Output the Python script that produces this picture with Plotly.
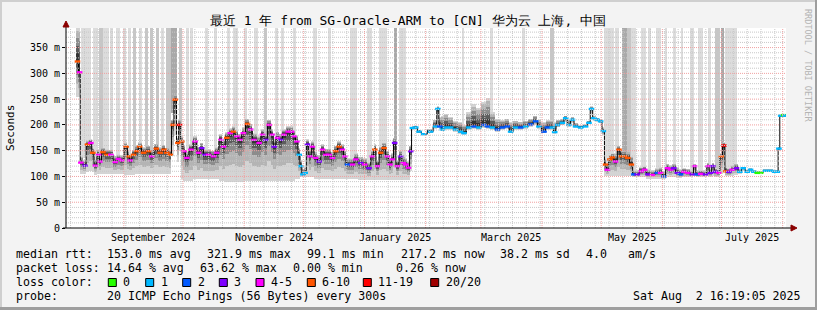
import numpy as np
import pandas as pd
import plotly.graph_objects as go

# ---------------- data ----------------
DATES = [
"2024-08-08 12:00","2024-08-09 14:00","2024-08-10 05:00","2024-08-12 07:00","2024-08-13 12:00","2024-08-15 07:00",
"2024-08-16 07:00","2024-08-17 12:00","2024-08-19 05:00","2024-08-19 22:00","2024-08-21 10:00","2024-08-23 10:00",
"2024-08-25 10:00","2024-08-27 14:00","2024-08-29 07:00","2024-08-31 00:00","2024-09-02 05:00","2024-09-03 10:00",
"2024-09-04 05:00","2024-09-05 22:00","2024-09-07 14:00","2024-09-09 00:00","2024-09-11 00:00","2024-09-13 12:00",
"2024-09-15 05:00","2024-09-17 10:00","2024-09-19 10:00","2024-09-21 10:00","2024-09-22 19:00","2024-09-24 12:00",
"2024-09-25 19:00","2024-09-27 00:00","2024-09-28 10:00","2024-09-29 05:00","2024-09-30 10:00","2024-10-01 14:00",
"2024-10-02 22:00","2024-10-05 00:00","2024-10-07 02:00","2024-10-08 22:00","2024-10-10 12:00","2024-10-12 05:00",
"2024-10-13 22:00","2024-10-16 12:00","2024-10-18 02:00","2024-10-20 05:00","2024-10-21 12:00","2024-10-23 05:00",
"2024-10-24 22:00","2024-10-26 14:00","2024-10-28 07:00","2024-10-29 22:00","2024-10-31 14:00","2024-11-02 17:00",
"2024-11-04 07:00","2024-11-06 00:00","2024-11-08 14:00","2024-11-10 07:00","2024-11-11 22:00","2024-11-13 14:00",
"2024-11-15 07:00","2024-11-16 05:00","2024-11-17 22:00","2024-11-19 12:00","2024-11-21 05:00","2024-11-23 07:00",
"2024-11-25 00:00","2024-11-26 07:00","2024-11-27 17:00","2024-11-28 22:00","2024-11-29 17:00","2024-11-30 19:00",
"2024-12-01 22:00","2024-12-03 02:00","2024-12-04 10:00","2024-12-05 14:00","2024-12-07 07:00","2024-12-09 00:00",
"2024-12-10 17:00","2024-12-12 10:00","2024-12-14 00:00","2024-12-15 17:00","2024-12-17 10:00","2024-12-19 02:00",
"2024-12-20 19:00","2024-12-22 00:00","2024-12-23 10:00","2024-12-25 22:00","2024-12-27 14:00","2024-12-30 02:00",
"2025-01-01 02:00","2025-01-03 07:00","2025-01-05 00:00","2025-01-06 05:00","2025-01-07 12:00","2025-01-09 05:00",
"2025-01-10 22:00","2025-01-12 14:00","2025-01-13 22:00","2025-01-15 02:00","2025-01-16 07:00","2025-01-17 14:00",
"2025-01-19 07:00","2025-01-20 17:00","2025-01-21 22:00","2025-01-23 07:00","2025-01-24 10:00","2025-01-25 07:00",
"2025-01-27 00:00","2025-01-28 14:00","2025-01-31 02:00","2025-02-03 12:00","2025-02-06 02:00","2025-02-07 05:00",
"2025-02-08 05:00","2025-02-09 12:00","2025-02-11 02:00","2025-02-13 17:00","2025-02-16 05:00","2025-02-18 17:00",
"2025-02-20 10:00","2025-02-22 22:00","2025-02-25 12:00","2025-02-28 00:00","2025-03-02 14:00","2025-03-04 07:00",
"2025-03-06 19:00","2025-03-09 10:00","2025-03-11 22:00","2025-03-14 10:00","2025-03-16 02:00","2025-03-18 14:00",
"2025-03-21 05:00","2025-03-23 17:00","2025-03-26 05:00","2025-03-28 19:00","2025-03-30 10:00","2025-04-02 00:00",
"2025-04-03 17:00","2025-04-06 05:00","2025-04-07 10:00","2025-04-08 19:00","2025-04-11 07:00","2025-04-13 00:00",
"2025-04-14 14:00","2025-04-16 10:00","2025-04-18 00:00","2025-04-20 14:00","2025-04-23 02:00","2025-04-24 19:00",
"2025-04-26 02:00","2025-04-27 07:00","2025-04-29 00:00","2025-04-30 17:00","2025-05-02 02:00","2025-05-03 05:00",
"2025-05-04 02:00","2025-05-05 10:00","2025-05-06 14:00","2025-05-08 07:00","2025-05-10 00:00","2025-05-11 05:00",
"2025-05-12 22:00","2025-05-14 12:00","2025-05-16 07:00","2025-05-17 14:00","2025-05-19 07:00","2025-05-21 07:00",
"2025-05-23 00:00","2025-05-24 17:00","2025-05-26 22:00","2025-05-29 10:00","2025-05-31 02:00","2025-06-01 19:00",
"2025-06-03 12:00","2025-06-05 05:00","2025-06-06 19:00","2025-06-08 14:00","2025-06-10 05:00","2025-06-11 22:00",
"2025-06-13 22:00","2025-06-16 05:00","2025-06-17 07:00","2025-06-18 17:00","2025-06-20 10:00","2025-06-22 22:00",
"2025-06-24 02:00","2025-06-25 10:00","2025-06-26 14:00","2025-06-28 00:00","2025-06-29 14:00","2025-06-30 19:00",
"2025-07-02 05:00","2025-07-03 05:00","2025-07-04 17:00","2025-07-06 10:00","2025-07-08 14:00","2025-07-10 07:00",
"2025-07-12 00:00","2025-07-14 00:00","2025-07-15 17:00","2025-07-17 10:00","2025-07-19 02:00","2025-07-20 19:00",
"2025-07-23 07:00","2025-07-25 22:00","2025-07-27 22:00","2025-07-29 07:00","2025-07-30 02:00","2025-07-31 00:00",
"2025-08-01 14:00","2025-08-02 10:00",
]
MEDIAN = [
323,302,127,121,162,165,146,121,142,129,147,142,142,128,134,131,158,139,131,142,149,158,146,149,139,154,146,152,146,142,
200,249,165,200,168,149,136,152,168,146,155,142,142,139,146,171,158,175,184,187,178,171,184,202,191,171,165,181,171,200,
181,158,175,171,181,187,187,178,168,142,120,104,107,162,139,158,136,129,152,142,142,136,149,158,152,139,123,123,133,126,
123,116,139,152,120,146,155,139,123,133,165,120,139,126,123,117,149,194,195,187,182,187,197,231,197,191,195,195,191,187,
184,195,197,195,200,197,195,191,195,197,187,195,195,197,201,207,197,187,195,195,186,200,204,213,200,210,197,195,197,204,
231,213,210,207,188,123,113,133,137,129,152,139,139,136,123,104,104,110,113,104,103,107,107,100,116,113,116,107,104,109,
107,104,120,104,105,104,120,107,120,109,107,139,160,110,109,113,116,109,116,109,113,109,107,107,111,111,109,109,154,218,
219,218,
]
# loss class index: 0 -> "0", 1 -> "1", 2 -> "2", 3 -> "3", 4 -> "4-5", 5 -> "6-10", 6 -> "11-19", 7 -> "20/20"
LOSS = [
5,4,4,3,5,4,5,4,4,4,5,5,4,4,4,4,5,5,4,5,5,5,5,5,4,5,5,5,5,5,
5,5,5,6,5,4,4,4,4,4,3,3,4,4,4,4,4,5,4,5,4,4,4,5,4,4,4,4,3,4,
4,3,4,3,4,4,4,4,4,1,1,1,1,3,4,4,4,3,4,4,4,4,5,5,4,4,2,4,4,3,
4,3,4,5,4,5,5,4,4,4,3,4,3,4,4,4,3,1,1,1,1,1,1,1,2,1,1,1,1,1,
1,1,2,1,2,2,1,2,2,2,1,1,2,1,2,2,1,2,2,1,1,1,1,1,1,1,1,1,1,1,
1,1,1,1,1,5,4,5,5,4,5,5,5,5,5,2,3,4,4,3,4,2,4,2,4,4,3,3,2,4,
4,3,4,2,4,3,4,3,3,3,4,5,6,5,3,4,3,1,1,1,1,1,0,0,1,1,1,1,1,1,
0,1,
]
SMOKE_LO = [
255,255,105,105,108,110,108,102,104,104,104,104,104,104,104,104,102,102,102,102,104,104,104,104,104,104,104,104,104,104,
140,180,128,150,95,92,92,92,95,95,95,95,95,95,95,92,92,90,90,90,90,90,90,92,92,92,92,92,92,92,
92,92,92,92,92,92,92,92,95,95,98,98,98,98,98,98,96,96,96,96,96,96,96,96,96,96,96,96,96,94,
94,94,94,94,94,94,94,94,94,94,94,94,94,94,94,94,110,191,192,184,180,184,193,200,192,188,190,190,187,183,
181,190,192,190,194,192,190,187,190,192,184,191,191,193,196,200,193,184,190,190,183,195,199,205,196,204,194,193,195,201,
220,208,206,203,180,100,100,100,100,100,100,100,100,100,100,98,98,98,98,96,96,96,96,95,98,98,98,97,97,98,
98,98,100,98,98,98,100,98,100,98,98,105,110,100,100,100,102,105,110,106,109,106,105,105,109,109,107,107,150,215,
216,215,
]
SMOKE_HI = [
388,388,140,132,170,172,155,133,152,140,156,153,152,140,143,141,166,150,142,152,160,166,157,160,152,163,157,161,156,152,
210,258,175,210,178,160,148,162,178,158,165,153,153,150,157,182,170,186,194,198,190,183,195,212,202,184,178,192,183,210,
192,172,187,183,192,198,198,190,180,155,132,115,118,172,150,168,148,142,162,154,154,148,160,168,162,150,136,136,145,138,
136,128,150,162,132,158,165,150,135,145,175,132,150,138,135,130,160,198,198,190,185,192,210,236,215,218,222,215,208,205,
200,225,240,232,245,252,225,212,210,212,205,208,206,208,212,218,210,205,210,210,205,210,212,218,210,215,204,199,201,208,
236,217,214,211,195,135,125,142,145,145,160,152,150,148,140,112,112,118,120,114,112,116,118,110,124,122,124,118,114,116,
115,112,124,112,112,112,126,116,126,116,114,145,166,118,116,122,124,114,119,113,116,112,110,110,114,114,112,112,158,221,
222,221,
]
# background shading where pings were lost
LOSS_BG_START = [
"2024-08-10 05:00","2024-08-16 07:00","2024-08-19 07:00","2024-08-21 10:00","2024-08-24 22:00","2024-08-28 00:00",
"2024-08-31 12:00","2024-09-03 00:00","2024-09-06 02:00","2024-09-08 14:00","2024-09-11 14:00","2024-09-14 05:00",
"2024-09-17 05:00","2024-09-19 19:00","2024-09-22 07:00","2024-09-24 19:00","2024-09-28 22:00","2024-10-02 22:00",
"2024-10-05 00:00","2024-10-12 14:00","2024-10-17 02:00","2024-10-23 05:00","2024-10-26 05:00","2024-11-01 07:00",
"2024-11-05 22:00","2024-11-10 22:00","2024-11-17 00:00","2024-11-20 02:00","2024-11-25 14:00","2024-12-05 19:00",
"2024-12-13 10:00","2024-12-24 12:00","2025-01-02 02:00","2025-01-08 05:00","2025-01-16 07:00","2025-01-18 07:00",
"2025-02-19 05:00","2025-03-06 00:00","2025-03-21 17:00","2025-04-04 22:00","2025-05-02 05:00","2025-05-07 19:00",
"2025-05-11 07:00","2025-05-13 22:00","2025-05-15 22:00","2025-05-21 00:00","2025-05-25 00:00","2025-05-28 14:00",
"2025-06-02 14:00","2025-06-06 05:00","2025-06-10 05:00","2025-06-15 05:00","2025-06-19 07:00","2025-06-23 22:00",
"2025-06-27 22:00","2025-06-30 12:00","2025-07-03 00:00",
]
LOSS_BG_END = [
"2024-08-15 07:00","2024-08-18 19:00","2024-08-21 10:00","2024-08-24 10:00","2024-08-26 10:00","2024-08-30 00:00",
"2024-09-02 00:00","2024-09-04 12:00","2024-09-07 02:00","2024-09-10 02:00","2024-09-13 05:00","2024-09-15 17:00",
"2024-09-18 17:00","2024-09-21 07:00","2024-09-24 19:00","2024-09-27 22:00","2024-09-30 10:00","2024-10-03 22:00",
"2024-10-06 00:00","2024-10-13 14:00","2024-10-18 02:00","2024-10-24 17:00","2024-10-28 19:00","2024-11-02 07:00",
"2024-11-07 22:00","2024-11-12 12:00","2024-11-18 00:00","2024-11-21 02:00","2024-11-27 02:00","2024-12-07 19:00",
"2024-12-14 22:00","2024-12-28 00:00","2025-01-04 14:00","2025-01-12 07:00","2025-01-17 07:00","2025-01-21 22:00",
"2025-02-20 07:00","2025-03-07 00:00","2025-03-23 05:00","2025-04-06 22:00","2025-05-07 07:00","2025-05-09 19:00",
"2025-05-13 22:00","2025-05-15 22:00","2025-05-18 10:00","2025-05-23 12:00","2025-05-26 00:00","2025-05-31 02:00",
"2025-06-03 14:00","2025-06-07 17:00","2025-06-11 17:00","2025-06-16 19:00","2025-06-21 10:00","2025-06-25 10:00",
"2025-06-30 00:00","2025-07-02 00:00","2025-07-09 02:00",
]
LOSS_BG_SHADE = [
1,1,2,1,1,1,1,1,2,1,2,2,2,1,2,3,2,1,1,1,1,1,1,1,1,2,1,1,1,1,1,1,1,1,3,1,
1,1,1,2,1,1,3,2,1,1,1,1,1,1,1,1,1,1,2,3,1,
]
LOSS_COLORS = ["#26ff00", "#00b8ff", "#0059ff", "#7e00ff", "#ff00ff", "#ff5500", "#ff0000", "#a00000"]
LOSS_LABELS = ["0", "1", "2", "3", "4-5", "6-10", "11-19", "20/20"]
Y_TICKS = [0, 50, 100, 150, 200, 250, 300, 350]
Y_TICK_TEXT = ["0", "50 m", "100 m", "150 m", "200 m", "250 m", "300 m", "350 m"]
X_LABELS = ["September 2024", "November 2024", "January 2025", "March 2025", "May 2025", "July 2025"]
X_LABEL_MONTHS = ["2024-09-01", "2024-11-01", "2025-01-01", "2025-03-01", "2025-05-01", "2025-07-01"]
TITLE = "最近 1 年 from SG-Oracle-ARM to [CN] 华为云 上海, 中国"
LINE1 = [("median rtt:", 16), ("153.0 ms avg", 107), ("321.9 ms max", 207), ("99.1 ms min", 307),
         ("217.2 ms now", 400.5), ("38.2 ms sd", 500), ("4.0", 585.5), ("am/s", 628)]
LINE2 = [("packet loss:", 16), ("14.64 % avg", 107), ("63.62 % max", 200), ("0.00 % min", 292.5), ("0.26 % now", 396)]
PROBE = "20 ICMP Echo Pings (56 Bytes) every 300s"
STAMP = "Sat Aug  2 16:19:05 2025"
T_START, T_END = "2024-08-02 16:19:05", "2025-08-02 16:19:05"
YMAX = 388

# ---------------- layout geometry ----------------
W, H = 817, 310
L, R, T, B = 66, 786, 28, 228
MONO = "DejaVu Sans Mono"


def px(x):
    return (x - L) / (R - L)


def py(y):
    return (B - y) / (B - T)


def to_ms(d):
    return pd.to_datetime(d).values.astype("datetime64[ms]").astype(np.int64).astype(float)


t = pd.to_datetime(DATES)
tn = to_ms(DATES)
med = np.array(MEDIAN, float)
lo = np.array(SMOKE_LO, float)
hi = np.array(SMOKE_HI, float)

edges = np.empty(len(tn) + 1)
edges[1:-1] = (tn[:-1] + tn[1:]) / 2
edges[0] = tn[0] - (tn[1] - tn[0]) / 2
edges[-1] = tn[-1] + (tn[-1] - tn[-2]) / 2
centers = pd.to_datetime((edges[:-1] + edges[1:]) / 2, unit="ms")
widths = edges[1:] - edges[:-1]

fig = go.Figure()

# loss background bars
SHADES = {1: "#dcdcdc", 2: "#c6c6c6", 3: "#a9a9a9"}
sn, en = to_ms(LOSS_BG_START), to_ms(LOSS_BG_END)
mid = (sn + en) / 2
lb_base = np.interp(mid, tn, med)
fig.add_trace(go.Bar(x=pd.to_datetime(mid, unit="ms"), y=YMAX - lb_base, base=lb_base, width=en - sn,
                     marker=dict(color=[SHADES[k] for k in LOSS_BG_SHADE], line=dict(width=0)),
                     hoverinfo="skip", showlegend=False))

# smoke
layers = [("#d4d4d4", 0.0, 1.0), ("#b4b4b4", 0.35, 0.9), ("#8c8c8c", 0.62, 0.7),
          ("#5c5c5c", 0.8, 0.45), ("#343434", 0.92, 0.25)]
for col, fl, fh in layers:
    b = lo + fl * (med - lo)
    top = med + fh * (hi - med)
    fig.add_trace(go.Bar(x=centers, y=top - b, base=b, width=widths,
                         marker=dict(color=col, line=dict(width=0)), hoverinfo="skip", showlegend=False))

# median line (black connectors) + loss-coloured median dashes
fig.add_trace(go.Scatter(x=t, y=med, mode="lines", line=dict(color="#000000", width=1, shape="hvh"),
                         hoverinfo="skip", showlegend=False))
fig.add_trace(go.Scatter(x=t, y=med, mode="markers",
                         marker=dict(symbol="line-ew", size=4,
                                     line=dict(width=2.4, color=[LOSS_COLORS[k] for k in LOSS])),
                         hoverinfo="skip", showlegend=False))

shapes = []
# horizontal grid
for v in range(10, YMAX + 1, 10):
    major = v % 50 == 0
    shapes.append(dict(type="line", xref="paper", x0=0, x1=1, yref="y", y0=v, y1=v, layer="above",
                       line=dict(color="#f0a0a0" if major else "#c8c8c8", width=1, dash="1px,1px")))
# vertical grid
for d in pd.date_range("2024-08-05", T_END, freq="7D"):
    shapes.append(dict(type="line", xref="x", x0=d, x1=d, yref="paper", y0=0, y1=1, layer="above",
                       line=dict(color="#c8c8c8", width=1, dash="1px,1px")))
for d in pd.date_range("2024-09-01", T_END, freq="MS"):
    shapes.append(dict(type="line", xref="x", x0=d, x1=d, yref="paper", y0=0, y1=1, layer="above",
                       line=dict(color="#f0a0a0", width=1, dash="1px,1px")))
# axes
shapes.append(dict(type="line", xref="paper", yref="paper", x0=px(L), x1=px(L), y0=py(B), y1=py(24),
                   line=dict(color="#000", width=1), layer="above"))
shapes.append(dict(type="line", xref="paper", yref="paper", x0=px(L - 3), x1=px(792), y0=py(B), y1=py(B),
                   line=dict(color="#000", width=1), layer="above"))
shapes.append(dict(type="path", xref="paper", yref="paper",
                   path=f"M {px(L-3)},{py(27)} L {px(L)},{py(21)} L {px(L+3)},{py(27)} Z",
                   fillcolor="#8b0000", line=dict(color="#8b0000", width=1), layer="above"))
shapes.append(dict(type="path", xref="paper", yref="paper",
                   path=f"M {px(791)},{py(B-3)} L {px(797)},{py(B)} L {px(791)},{py(B+3)} Z",
                   fillcolor="#8b0000", line=dict(color="#8b0000", width=1), layer="above"))
# frame
shapes.append(dict(type="line", xref="paper", yref="paper", x0=px(0), x1=px(W), y0=py(1), y1=py(1),
                   line=dict(color="#cfcfcf", width=2)))
shapes.append(dict(type="line", xref="paper", yref="paper", x0=px(1), x1=px(1), y0=py(0), y1=py(H),
                   line=dict(color="#cfcfcf", width=2)))
shapes.append(dict(type="line", xref="paper", yref="paper", x0=px(0), x1=px(W), y0=py(H - 1.5), y1=py(H - 1.5),
                   line=dict(color="#9e9e9e", width=3)))
shapes.append(dict(type="line", xref="paper", yref="paper", x0=px(W - 1), x1=px(W - 1), y0=py(0), y1=py(H),
                   line=dict(color="#9e9e9e", width=2)))

ann = []


def text(s, x, y, size=11.6, anchor="left", color="#000", angle=0, family=MONO):
    ann.append(dict(text=s, xref="paper", yref="paper", x=px(x), y=py(y), xanchor=anchor, yanchor="middle",
                    showarrow=False, font=dict(family=family, size=size, color=color), textangle=angle,
                    borderpad=0, borderwidth=0))


text(TITLE, 408, 20.5, size=13, anchor="center")
text("Seconds", 10, 128, size=11, anchor="center", angle=-90)
text("RRDTOOL / TOBI OETIKER", 808, 66, size=8.5, anchor="center", angle=90, color="#b4b4b4")
for s, x in LINE1:
    text(s, x, 254.3)
for s, x in LINE2:
    text(s, x, 268.3)
text("loss color:", 16, 282.3)
BOX_X = [108.3, 145.7, 182.7, 219.3, 256, 307.3, 363.3, 430.7]
for lab, col, bx in zip(LOSS_LABELS, LOSS_COLORS, BOX_X):
    shapes.append(dict(type="rect", xref="paper", yref="paper", x0=px(bx), x1=px(bx + 8), y0=py(278.5), y1=py(286.5),
                       fillcolor=col, line=dict(color="#000", width=1)))
    text(lab, bx + 15, 282.3)
text("probe:", 16, 296.2)
text(PROBE, 107, 296.2)
text(STAMP, 800.5, 296.2, anchor="right")

# x labels centred in their month
for lab, m in zip(X_LABELS, X_LABEL_MONTHS):
    ms = pd.Timestamp(m)
    me = ms + pd.offsets.MonthBegin(1)
    ann.append(dict(text=lab, xref="x", yref="paper", x=ms + (me - ms) / 2, y=0, yshift=-9.7,
                    xanchor="center", yanchor="middle", showarrow=False,
                    font=dict(family=MONO, size=10, color="#000")))

fig.update_layout(
    width=W, height=H, margin=dict(l=L, r=W - R, t=T, b=H - B),
    paper_bgcolor="#f3f3f3", plot_bgcolor="#ffffff",
    barmode="overlay", bargap=0, showlegend=False,
    shapes=shapes, annotations=ann,
    xaxis=dict(type="date", range=[T_START, T_END], showgrid=False, zeroline=False, showticklabels=False,
               showline=False, ticks=""),
    yaxis=dict(range=[0, YMAX], tickvals=Y_TICKS, ticktext=Y_TICK_TEXT, showgrid=False, zeroline=False,
               showline=False, ticks="outside", ticklen=3, tickcolor="#000",
               tickfont=dict(family=MONO, size=10, color="#000")),
)
fig.write_html("out.html")
